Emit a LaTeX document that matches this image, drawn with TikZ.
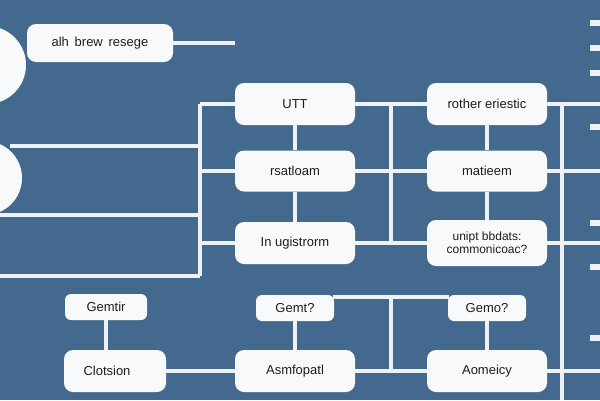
\documentclass[tikz,border=0pt]{standalone}
\usepackage{fontspec}
\setmainfont{Liberation Sans}
\usetikzlibrary{backgrounds}
\definecolor{bgblue}{RGB}{67,105,143}
\definecolor{boxfill}{RGB}{248,249,251}
\definecolor{linecol}{RGB}{238,242,245}
\definecolor{txt}{RGB}{28,30,34}
\begin{document}
\begin{tikzpicture}[x=1pt,y=-1pt,
  box/.style={draw=none,fill=boxfill,rounded corners=9pt,minimum width=120pt,minimum height=42pt,
    inner sep=2pt,align=center,text=txt,font=\fontsize{13}{13.5}\selectfont},
  smallbox/.style={box,rounded corners=6pt,minimum width=78pt,minimum height=26pt},
  conn/.style={draw=linecol,line width=3.2pt},
  tick/.style={fill=linecol,draw=none}]
\useasboundingbox (0,0) rectangle (600,400);
% nodes
\node[box,minimum width=146pt,minimum height=38pt] (top) at (100,43) {alh\, brew\, resege};
\node[box] (a1) at (295,104) {UTT};
\node[box,minimum height=41pt] (a2) at (295,171) {rsatloam};
\node[box] (a3) at (295,243) {In ugistrorm};
\node[box] (b1) at (487,104) {rother eriestic};
\node[box,minimum height=41pt] (b2) at (487,171) {matieem};
\node[box,minimum height=46pt,font=\fontsize{12}{13}\selectfont] (b3) at (487,243) {unipt bbdats:\\commonicoac?};
\node[smallbox,minimum width=82pt] (g1) at (106,307) {Gemtir};
\node[smallbox] (g2) at (295,308) {Gemt?};
\node[smallbox] (g3) at (487,308) {Gemo?};
\node[box,minimum width=102pt] (c1) at (115,371) {Clotsion\hspace*{16pt}};
\node[box] (c2) at (295,371) {Asmfopatl};
\node[box] (c3) at (487,371) {Aomeicy};
% coordinates
\coordinate (topend) at (235,43);
\coordinate (busLtop) at (200,104);
\coordinate (busLa2) at (200,171);
\coordinate (busLa3) at (200,243);
\coordinate (busLbot) at (200,276);
\coordinate (h1s) at (10,146);
\coordinate (h1e) at (200,146);
\coordinate (h2s) at (0,215);
\coordinate (h2e) at (200,215);
\coordinate (h3s) at (0,276);
\coordinate (busMtop) at (391,104);
\coordinate (busMbot) at (391,243);
\coordinate (busBtop) at (391,297);
\coordinate (busBbot) at (391,371);
\coordinate (g2top) at (333,297);
\coordinate (g3top) at (449,297);
\coordinate (busRtop) at (562,104);
\coordinate (busRbot) at (562,400);
\coordinate (r1) at (600,104);
\coordinate (r2) at (600,171);
\coordinate (r3) at (600,243);
\coordinate (r4) at (600,371);
\begin{pgfonlayer}{background}
\fill[bgblue] (0,0) rectangle (600,400);
\begin{scope}
\clip (0,0) rectangle (600,400);
\fill[boxfill] (-13,65) circle[radius=39];
\fill[boxfill] (-15,178) circle[radius=37];
\end{scope}
% connectors
\path[conn] (top.east) -- (topend);
\path[conn] (busLtop) -- (busLbot);
\path[conn] (busLtop) -- (a1.west);
\path[conn] (busLa2) -- (a2.west);
\path[conn] (busLa3) -- (a3.west);
\path[conn] (h1s) -- (h1e);
\path[conn] (h2s) -- (h2e);
\path[conn] (h3s) -- (busLbot);
\path[conn] (a1.south) -- (a2.north);
\path[conn] (a2.south) -- (a3.north);
\path[conn] (b1.south) -- (b2.north);
\path[conn] (b2.south) -- (b3.north);
\path[conn] (a1.east) -- (b1.west);
\path[conn] (a2.east) -- (b2.west);
\path[conn] (a3.east) -- (b3.west);
\path[conn] (busMtop) -- (busMbot);
\path[conn] (b1.east) -- (r1);
\path[conn] (b2.east) -- (r2);
\path[conn] (b3.east) -- (r3);
\path[conn] (c3.east) -- (r4);
\path[conn] (busRtop) -- (busRbot);
\path[conn] (g1.south) -- (g1.south |- c1.north);
\path[conn] (g2.south) -- (c2.north);
\path[conn] (g3.south) -- (c3.north);
\path[conn] (c1.east) -- (c2.west);
\path[conn] (c2.east) -- (c3.west);
\path[conn] (g2top) -- (g3top);
\path[conn] (busBtop) -- (busBbot);
\end{pgfonlayer}
% ticks on right edge
\foreach \y in {23,48,73,127,223,267,338}
  \fill[tick] (590,\y-3) rectangle (600,\y+3);
\end{tikzpicture}
\end{document}
